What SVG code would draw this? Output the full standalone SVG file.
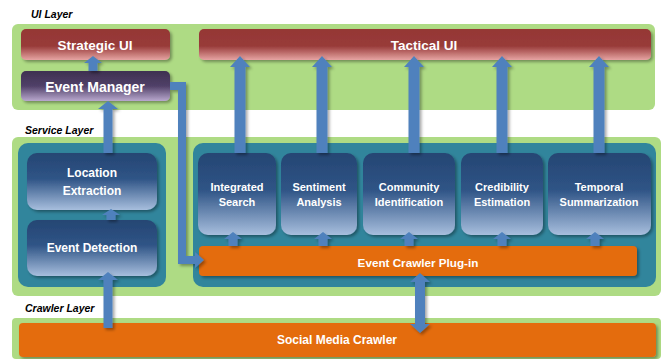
<svg xmlns="http://www.w3.org/2000/svg" width="661" height="359" viewBox="0 0 661 359">
<defs>
<linearGradient id="gRed" x1="0" y1="0" x2="0" y2="1"><stop offset="0" stop-color="#953735"/><stop offset="0.55" stop-color="#983B39"/><stop offset="1" stop-color="#E6A4A3"/></linearGradient>
<linearGradient id="gPur" x1="0" y1="0" x2="0" y2="1"><stop offset="0" stop-color="#3F3151"/><stop offset="0.5" stop-color="#504068"/><stop offset="1" stop-color="#B9A8CE"/></linearGradient>
<linearGradient id="gBlue" x1="0" y1="0" x2="0" y2="1"><stop offset="0" stop-color="#254673"/><stop offset="0.45" stop-color="#2F5486"/><stop offset="1" stop-color="#A7BEDD"/></linearGradient>
<filter id="sh" x="-10%" y="-10%" width="130%" height="140%"><feDropShadow dx="2" dy="2" stdDeviation="1.5" flood-color="#000" flood-opacity="0.35"/></filter>
<style>
.green{fill:#AEDB84}
.teal{fill:#31859C}
.layer{font-family:"Liberation Sans",Arial,sans-serif;font-weight:bold;font-style:italic;font-size:10.5px;fill:#000}
.t{font-family:"Liberation Sans",Arial,sans-serif;font-weight:bold;fill:#fff;text-anchor:middle;dominant-baseline:central}
.svc{fill:url(#gBlue);filter:url(#sh)}
.arr{fill:#4F81BD;filter:url(#sh)}
.org{fill:#E46C0A;filter:url(#sh)}
</style>
</defs>
<rect width="661" height="359" fill="#fff"/>
<g id="layers">
<text class="layer" x="31" y="18">UI Layer</text>
<rect class="green" x="12" y="24" width="643" height="86" rx="6"/>
<text class="layer" x="25" y="134">Service Layer</text>
<rect class="green" x="12" y="137" width="649" height="159" rx="6"/>
<rect class="teal" x="18" y="143" width="148" height="144" rx="10"/>
<rect class="teal" x="193" y="143" width="463" height="144" rx="10"/>
<text class="layer" x="25" y="312">Crawler Layer</text>
<rect class="green" x="12" y="318" width="649" height="41" rx="4"/>
</g>
<g id="strategic-ui"><rect x="21" y="29" width="149" height="31" rx="5" fill="url(#gRed)" filter="url(#sh)"/><text class="t" x="95" y="45" font-size="13.5">Strategic UI</text></g>
<g id="tactical-ui"><rect x="199" y="29" width="452" height="31" rx="5" fill="url(#gRed)" filter="url(#sh)"/><text class="t" x="424" y="45" font-size="13.5">Tactical UI</text></g>
<g id="event-manager"><rect x="21" y="71" width="149" height="30" rx="5" fill="url(#gPur)" filter="url(#sh)"/><text class="t" x="95" y="87" font-size="14">Event Manager</text></g>
<g id="location-extraction"><rect class="svc" x="27" y="153" width="130" height="57" rx="10"/><text class="t" x="92" y="173" font-size="12">Location</text><text class="t" x="92" y="191" font-size="12">Extraction</text></g>
<g id="event-detection"><rect class="svc" x="27" y="220" width="130" height="56" rx="10"/><text class="t" x="92" y="248" font-size="12">Event Detection</text></g>
<g id="integrated-search"><rect class="svc" x="198" y="153" width="78" height="82" rx="10"/><text class="t" x="237" y="187" font-size="11">Integrated</text><text class="t" x="237" y="202" font-size="11">Search</text></g>
<g id="sentiment-analysis"><rect class="svc" x="281" y="153" width="76" height="82" rx="10"/><text class="t" x="319" y="187" font-size="11">Sentiment</text><text class="t" x="319" y="202" font-size="11">Analysis</text></g>
<g id="community-identification"><rect class="svc" x="363" y="153" width="92" height="82" rx="10"/><text class="t" x="409" y="187" font-size="11">Community</text><text class="t" x="409" y="202" font-size="11">Identification</text></g>
<g id="credibility-estimation"><rect class="svc" x="461" y="153" width="82" height="82" rx="10"/><text class="t" x="502" y="187" font-size="11">Credibility</text><text class="t" x="502" y="202" font-size="11">Estimation</text></g>
<g id="temporal-summarization"><rect class="svc" x="548" y="153" width="103" height="82" rx="10"/><text class="t" x="599" y="187" font-size="11">Temporal</text><text class="t" x="599" y="202" font-size="11">Summarization</text></g>
<g id="event-crawler-plugin"><rect class="org" x="199" y="246" width="438" height="30" rx="4"/><text class="t" x="418" y="262" font-size="11.7">Event Crawler Plug-in</text></g>
<g id="social-media-crawler"><rect class="org" x="19" y="323" width="637" height="34" rx="4"/><text class="t" x="337" y="340" font-size="12">Social Media Crawler</text></g>
<g id="connectors">
<polygon class="arr" points="93,56 102,63 97.5,63 97.5,71 88.5,71 88.5,63 84,63"/>
<polygon class="arr" points="108,101 118,109 112.5,109 112.5,153 103.5,153 103.5,109 98,109"/>
<polygon class="arr" points="111,209 120,215 115.5,215 115.5,220 106.5,220 106.5,215 102,215"/>
<polygon class="arr" points="108,272 118,280 112.5,280 112.5,328 103.5,328 103.5,280 98,280"/>
<path class="arr" d="M170,82 H186 V256 H195 V252 L204,260 L195,268 V264 H178 V90 H170 Z"/>
<polygon class="arr" points="240,56 250,67 245.5,67 245.5,153 234.5,153 234.5,67 230,67"/>
<polygon class="arr" points="322,56 332,67 327.5,67 327.5,153 316.5,153 316.5,67 312,67"/>
<polygon class="arr" points="414,56 424,67 419.5,67 419.5,153 408.5,153 408.5,67 404,67"/>
<polygon class="arr" points="502,56 512,67 507.5,67 507.5,153 496.5,153 496.5,67 492,67"/>
<polygon class="arr" points="599,56 609,67 604.5,67 604.5,153 593.5,153 593.5,67 589,67"/>
<polygon class="arr" points="233,232 242,239 237.5,239 237.5,246 228.5,246 228.5,239 224,239"/>
<polygon class="arr" points="323,232 332,239 327.5,239 327.5,246 318.5,246 318.5,239 314,239"/>
<polygon class="arr" points="409,232 418,239 413.5,239 413.5,246 404.5,246 404.5,239 400,239"/>
<polygon class="arr" points="502,232 511,239 506.5,239 506.5,246 497.5,246 497.5,239 493,239"/>
<polygon class="arr" points="595,232 604,239 599.5,239 599.5,246 590.5,246 590.5,239 586,239"/>
<polygon class="arr" points="420,273 430,282 425,282 425,324 430,324 420,333 410,324 415,324 415,282 410,282"/>
</g>
</svg>
